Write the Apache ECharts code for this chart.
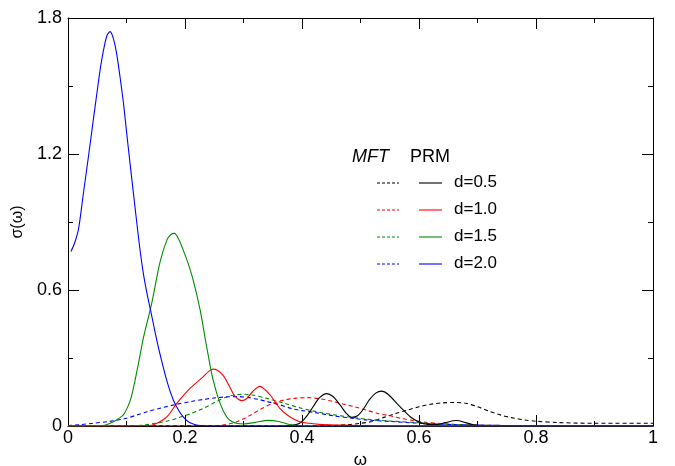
<!DOCTYPE html>
<html><head><meta charset="utf-8">
<script src="https://cdn.jsdelivr.net/npm/echarts@6/dist/echarts.min.js"></script>
<style>html,body{margin:0;padding:0;background:#fff}#c{width:675px;height:466px}</style>
</head><body><div id="c"></div>
<script>
// ---- data ----
const xTickValues = [0, 0.2, 0.4, 0.6, 0.8, 1];
const yTickValues = [0, 0.6, 1.2, 1.8];
const legendLabels = ['d=0.5', 'd=1.0', 'd=1.5', 'd=2.0'];
const seriesColors = ['#000000', '#ff0000', '#008c00', '#0000ff'];

// PRM (solid)
const prmD05 = [[0,0],[0.37,0],[0.39,0.006],[0.40,0.02],[0.41,0.05],[0.419,0.085],[0.43,0.125],[0.442,0.143],[0.453,0.13],[0.465,0.093],[0.476,0.055],[0.485,0.038],[0.495,0.045],[0.505,0.075],[0.515,0.115],[0.526,0.145],[0.536,0.154],[0.547,0.14],[0.5675,0.085],[0.585,0.041],[0.599,0.019],[0.615,0.007],[0.63,0.006],[0.645,0.015],[0.664,0.024],[0.68,0.015],[0.695,0.004],[0.72,0],[1,0]];
const prmD10 = [[0,0],[0.14,0.002],[0.152,0.012],[0.169,0.04],[0.186,0.10],[0.2085,0.166],[0.231,0.217],[0.24,0.24],[0.248,0.251],[0.256,0.245],[0.2655,0.222],[0.275,0.18],[0.283,0.14],[0.29,0.12],[0.297,0.112],[0.305,0.12],[0.315,0.15],[0.328,0.175],[0.337,0.16],[0.348,0.129],[0.362,0.078],[0.379,0.041],[0.395,0.02],[0.408,0.013],[0.43,0.007],[0.47,0.004],[0.5,0.002],[0.55,0],[1,0]];
const prmD15 = [[0,0],[0.06,0.002],[0.072,0.012],[0.085,0.03],[0.095,0.05],[0.106,0.11],[0.112,0.17],[0.12,0.27],[0.129,0.39],[0.143,0.54],[0.157,0.72],[0.169,0.82],[0.176,0.845],[0.182,0.85],[0.19,0.82],[0.197,0.776],[0.205,0.72],[0.214,0.644],[0.226,0.51],[0.237,0.35],[0.248,0.203],[0.26,0.10],[0.271,0.041],[0.28,0.02],[0.29,0.011],[0.30,0.009],[0.32,0.016],[0.342,0.025],[0.36,0.02],[0.375,0.009],[0.39,0.002],[0.41,0],[1,0]];
const prmD20 = [[0.005,0.77],[0.011,0.805],[0.018,0.87],[0.026,1.02],[0.035,1.19],[0.043,1.345],[0.050,1.48],[0.056,1.59],[0.062,1.675],[0.067,1.725],[0.072,1.74],[0.0775,1.71],[0.083,1.645],[0.090,1.52],[0.095,1.42],[0.100,1.30],[0.106,1.16],[0.117,0.91],[0.123,0.78],[0.129,0.67],[0.135,0.585],[0.142,0.50],[0.150,0.40],[0.157,0.32],[0.170,0.19],[0.180,0.115],[0.190,0.065],[0.197,0.040],[0.205,0.020],[0.214,0.009],[0.225,0.002],[0.24,0],[1,0]];

// MFT (dashed)
const mftD05 = [[0,0],[0.40,0],[0.45,0.002],[0.48,0.006],[0.50,0.012],[0.52,0.02],[0.54,0.038],[0.56,0.055],[0.58,0.07],[0.60,0.085],[0.62,0.096],[0.64,0.102],[0.66,0.104],[0.68,0.10],[0.70,0.085],[0.72,0.065],[0.74,0.048],[0.76,0.036],[0.78,0.027],[0.80,0.021],[0.84,0.015],[0.90,0.012],[1,0.012]];
const mftD10 = [[0,0],[0.25,0],[0.27,0.006],[0.29,0.02],[0.31,0.045],[0.33,0.075],[0.35,0.10],[0.37,0.115],[0.39,0.123],[0.41,0.125],[0.43,0.12],[0.45,0.11],[0.47,0.097],[0.49,0.085],[0.51,0.07],[0.53,0.055],[0.55,0.045],[0.57,0.033],[0.59,0.024],[0.61,0.017],[0.64,0.01],[0.67,0.006],[0.70,0.004],[0.75,0.002],[0.85,0.001],[1,0.001]];
const mftD15 = [[0,0],[0.10,0.001],[0.129,0.004],[0.15,0.012],[0.17,0.022],[0.186,0.034],[0.21,0.055],[0.231,0.077],[0.254,0.108],[0.27,0.127],[0.285,0.137],[0.30,0.14],[0.315,0.137],[0.34,0.122],[0.37,0.10],[0.3966,0.08],[0.425,0.063],[0.4535,0.05],[0.48,0.04],[0.51,0.03],[0.55,0.022],[0.596,0.015],[0.65,0.008],[0.70,0.004],[0.80,0.001],[1,0]];
const mftD20 = [[0,0.002],[0.02,0.006],[0.043,0.012],[0.07,0.02],[0.095,0.031],[0.115,0.046],[0.135,0.063],[0.16,0.08],[0.186,0.096],[0.21,0.108],[0.231,0.117],[0.255,0.125],[0.275,0.129],[0.29,0.13],[0.31,0.125],[0.328,0.116],[0.34,0.108],[0.36,0.095],[0.385,0.075],[0.40,0.068],[0.425,0.058],[0.4535,0.045],[0.49,0.033],[0.51,0.027],[0.55,0.02],[0.596,0.013],[0.65,0.007],[0.70,0.004],[0.80,0.001],[1,0]];

const prmSets = [prmD05, prmD10, prmD15, prmD20];
const mftSets = [mftD05, mftD10, mftD15, mftD20];

// ---- chart ----
const FONT = '"Liberation Sans", Arial, Helvetica, sans-serif';
const chart = echarts.init(document.getElementById('c'), null, {renderer: 'canvas'});

function axisCommon(showLabel) {
  return {
    type: 'value',
    axisLine: {show: true, onZero: false, lineStyle: {color: '#000', width: 1}},
    axisTick: {show: true, inside: true, length: 11, lineStyle: {color: '#000', width: 1}},
    minorTick: {show: true, splitNumber: 2, length: 5, lineStyle: {color: '#000', width: 1}},
    splitLine: {show: false},
    minorSplitLine: {show: false},
    axisLabel: {show: showLabel, color: '#000', fontSize: 18, fontFamily: FONT}
  };
}

const xBottom = Object.assign(axisCommon(true), {
  min: xTickValues[0], max: xTickValues[xTickValues.length - 1], interval: xTickValues[1] - xTickValues[0],
  position: 'bottom', name: 'ω', nameLocation: 'middle', nameGap: 22,
  nameTextStyle: {color: '#000', fontSize: 17, fontFamily: FONT}
});
xBottom.axisLabel.margin = 3;
const xTop = Object.assign(axisCommon(false), {
  min: xTickValues[0], max: xTickValues[xTickValues.length - 1], interval: xTickValues[1] - xTickValues[0],
  position: 'top'
});
const yLeft = Object.assign(axisCommon(true), {
  min: yTickValues[0], max: yTickValues[yTickValues.length - 1], interval: yTickValues[1] - yTickValues[0],
  position: 'left', name: 'σ(ω)', nameLocation: 'middle', nameGap: 36,
  nameTextStyle: {color: '#000', fontSize: 16, fontFamily: FONT}
});
yLeft.axisLabel.margin = 6;
const yRight = Object.assign(axisCommon(false), {
  min: yTickValues[0], max: yTickValues[yTickValues.length - 1], interval: yTickValues[1] - yTickValues[0],
  position: 'right'
});

const series = [];
mftSets.forEach((d, i) => series.push({
  type: 'line', name: 'MFT ' + legendLabels[i], data: d, xAxisIndex: 0, yAxisIndex: 0,
  showSymbol: false, smooth: 0.3, silent: true, z: 2,
  lineStyle: {color: seriesColors[i], width: 1.1, type: [4, 3]}
}));
prmSets.forEach((d, i) => series.push({
  type: 'line', name: 'PRM ' + legendLabels[i], data: d, xAxisIndex: 0, yAxisIndex: 0,
  showSymbol: false, smooth: 0.3, silent: true, z: 3,
  lineStyle: {color: seriesColors[i], width: 1.1}
}));

// legend drawn as graphic
const rowY = [183, 210, 237, 264];
const graphic = [
  {type: 'text', left: 352, top: 148, style: {text: 'MFT', fill: '#000', font: 'italic 18px ' + FONT}},
  {type: 'text', left: 410, top: 148, style: {text: 'PRM', fill: '#000', font: '18px ' + FONT}}
];
rowY.forEach((y, i) => {
  graphic.push({type: 'line', shape: {x1: 377, y1: y, x2: 399, y2: y}, style: {stroke: seriesColors[i], lineWidth: 1.1, lineDash: [3, 2]}});
  graphic.push({type: 'line', shape: {x1: 419, y1: y, x2: 442, y2: y}, style: {stroke: seriesColors[i], lineWidth: 1.1}});
  graphic.push({type: 'text', left: 454, top: y - 9, style: {text: legendLabels[i], fill: '#000', font: '17px ' + FONT}});
});

chart.setOption({
  animation: false,
  backgroundColor: '#fff',
  grid: {left: 68, right: 22, top: 18, bottom: 40, containLabel: false, outerBoundsMode: 'none'},
  xAxis: [xBottom, xTop],
  yAxis: [yLeft, yRight],
  series: series,
  graphic: graphic
});
</script>
</body></html>
